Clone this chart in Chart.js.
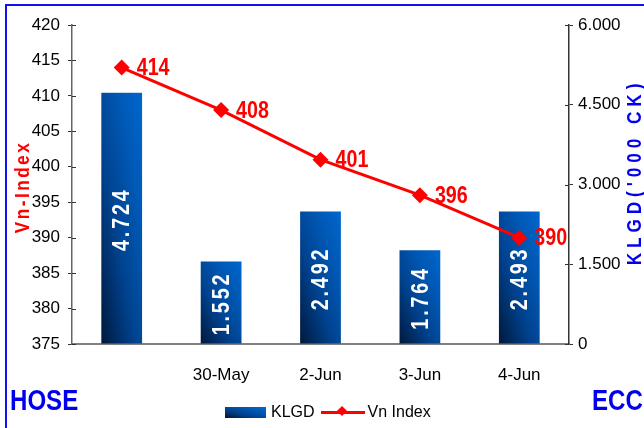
<!DOCTYPE html>
<html>
<head>
<meta charset="utf-8">
<script src="https://cdn.jsdelivr.net/npm/chart.js@4"></script>
<style>
  html, body { margin: 0; padding: 0; background: #fff; }
  #wrap { position: relative; width: 644px; height: 428px; overflow: hidden; font-family: "Liberation Sans", Arial, sans-serif; }
  #frame { position: absolute; left: 5px; top: 4px; width: 700px; height: 500px; border: 2px solid #1010f0; }
  #box { position: absolute; left: 0; top: 0; width: 644px; height: 428px; }
  .corner { position: absolute; top: 384px; font-weight: bold; font-size: 29px; color: #0000ee; transform: scaleX(0.83); transform-origin: left center; }
  #legend { position: absolute; left: 225px; top: 401px; height: 22px; display: flex; align-items: center; font-size: 16px; color: #000; }
  #legend .sw { width: 41px; height: 11px; background: linear-gradient(to top right, #001535, #00428e 40%, #0058b4 70%, #0068d0); margin-right: 5px; }
  #legend .ln { position: relative; width: 44px; height: 3px; background: #ff0000; margin: 0 3px 0 6px; }
  #legend .ln i { position: absolute; left: 17px; top: -4px; width: 8px; height: 8px; background: #ff0000; transform: rotate(45deg) scale(0.9); }
</style>
</head>
<body>
<div id="wrap">
  <div id="frame"></div>
  <div id="box"><canvas id="c"></canvas></div>
  <div class="corner" style="left:10px">HOSE</div>
  <div class="corner" style="left:592px">ECC</div>
  <div id="legend"><span class="sw"></span><span>KLGD</span><span class="ln"><i></i></span><span>Vn Index</span></div>
</div>
<script>
// --- データ ---
const days   = ['', '30-May', '2-Jun', '3-Jun', '4-Jun'];
const klgd   = [4724, 1552, 2492, 1764, 2493];   // '000 CK
const vnIndex = [414, 408, 401, 396, 390];

// 4724 -> "4.724"
function fmt(v) {
    return String(Math.round(v)).replace(/\B(?=(\d{3})+(?!\d))/g, '.');
}

const FONT = '"Liberation Sans", Arial, sans-serif';
const SQUEEZE = 0.82; // Arial Narrow 風に横を詰める
const BAR_PCT = 0.41;

// 回転・横圧縮つきのテキスト描画
function squeezedText(ctx, txt, x, y, opt) {
    ctx.save();
    ctx.translate(x, y);
    if (opt.rotate) ctx.rotate(opt.rotate);
    ctx.scale(SQUEEZE, 1);
    ctx.font = opt.font;
    ctx.letterSpacing = opt.spacing || '0px';
    ctx.fillStyle = opt.color;
    ctx.textAlign = opt.align || 'center';
    ctx.textBaseline = 'middle';
    ctx.fillText(txt, 0, 0);
    ctx.restore();
}

// 棒ごとに正規化した斜めグラデーション（Excel の「斜め上」風）
const GSZ = 64;
const gradTile = document.createElement('canvas');
gradTile.width = gradTile.height = GSZ;
(() => {
    const g2 = gradTile.getContext('2d');
    const g = g2.createLinearGradient(0, GSZ, GSZ, 0);
    g.addColorStop(0, '#001535');
    g.addColorStop(0.4, '#00428e');
    g.addColorStop(0.7, '#0058b4');
    g.addColorStop(1, '#0068d0');
    g2.fillStyle = g;
    g2.fillRect(0, 0, GSZ, GSZ);
})();

function barFill(c) {
    const chart = c.chart;
    if (c.type !== 'data' || !chart.chartArea || !chart.scales.yR) return '#0050a8';
    const xs = chart.scales.x, ys = chart.scales.yR;
    const w = (xs.right - xs.left) / days.length * BAR_PCT;
    const left = xs.getPixelForValue(c.dataIndex) - w / 2;
    const top = ys.getPixelForValue(c.raw);
    const h = Math.max(ys.bottom - top, 1);
    const p = chart.ctx.createPattern(gradTile, 'no-repeat');
    // 端の補間でにじまないよう少し外側まで広げる
    p.setTransform(new DOMMatrix().translate(left - 2, top - 2).scale((w + 4) / GSZ, (h + 4) / GSZ));
    return p;
}

// 値ラベル・軸タイトル・内側の目盛り
const extras = {
    id: 'extras',
    afterDatasetsDraw(chart) {
        const ctx = chart.ctx;
        chart.getDatasetMeta(1).data.forEach((bar, i) => {
            squeezedText(ctx, fmt(klgd[i]), bar.x + 1, (bar.y + bar.base) / 2 + 1, {
                rotate: -Math.PI / 2, font: 'bold 24px ' + FONT, spacing: '3.5px', color: '#ffffff'
            });
        });
        chart.getDatasetMeta(0).data.forEach((pt, i) => {
            squeezedText(ctx, String(vnIndex[i]), pt.x + 15, pt.y + 1, {
                font: 'bold 24px ' + FONT, color: '#ff0000', align: 'left'
            });
        });
    },
    afterDraw(chart) {
        const ctx = chart.ctx;
        const yL = chart.scales.y, yR = chart.scales.yR;
        ctx.save();
        ctx.strokeStyle = '#333';
        ctx.lineWidth = 1;
        yL.ticks.forEach(t => {
            const y = Math.round(yL.getPixelForValue(t.value)) + 0.5;
            ctx.beginPath(); ctx.moveTo(yL.right, y); ctx.lineTo(yL.right + 4, y); ctx.stroke();
        });
        yR.ticks.forEach(t => {
            const y = Math.round(yR.getPixelForValue(t.value)) + 0.5;
            ctx.beginPath(); ctx.moveTo(yR.left, y); ctx.lineTo(yR.left - 4, y); ctx.stroke();
        });
        ctx.restore();
        // 軸タイトル
        squeezedText(ctx, 'Vn-Index', 23, 187, {
            rotate: -Math.PI / 2, font: 'bold 21px ' + FONT, spacing: '3px', color: '#ff0000'
        });
        squeezedText(ctx, "KLGD('000 CK)", 635, 172, {
            rotate: -Math.PI / 2, font: 'bold 21px ' + FONT, spacing: '6px', color: '#0000ee'
        });
    }
};

new Chart(document.getElementById('c'), {
    data: {
        labels: days,
        datasets: [
            {
                type: 'line',
                label: 'Vn Index',
                data: vnIndex,
                yAxisID: 'y',
                borderColor: '#ff0000',
                backgroundColor: '#ff0000',
                borderWidth: 3,
                pointStyle: 'rectRot',
                pointRadius: 8,
                pointBorderWidth: 0,
                tension: 0,
                order: 1
            },
            {
                type: 'bar',
                label: 'KLGD',
                data: klgd,
                yAxisID: 'yR',
                backgroundColor: barFill,
                borderWidth: 0,
                categoryPercentage: 1,
                barPercentage: BAR_PCT,
                order: 2
            }
        ]
    },
    options: {
        responsive: true,
        maintainAspectRatio: false,
        animation: false,
        layout: { padding: { top: 25, left: 0, right: 0, bottom: 0 } },
        plugins: { legend: { display: false }, tooltip: { enabled: false } },
        scales: {
            x: {
                type: 'category',
                grid: { display: false, drawTicks: false },
                border: { display: true, color: '#808080', width: 2 },
                ticks: { color: '#000', padding: 21, font: { family: FONT, size: 17 }, maxRotation: 0 },
                afterFit: s => { s.height = 84; s.paddingLeft = 0; s.paddingRight = 0; }
            },
            y: {
                position: 'left',
                min: 375, max: 420,
                ticks: { stepSize: 5, color: '#000', padding: 8, font: { family: FONT, size: 17 } },
                grid: { drawOnChartArea: false, drawTicks: true, tickLength: 4, color: '#333' },
                border: { display: true, color: '#666', width: 1.5 },
                afterFit: s => { s.width = 72; s.paddingTop = 0; s.paddingBottom = 0; }
            },
            yR: {
                position: 'right',
                min: 0, max: 6000,
                ticks: { stepSize: 1500, color: '#000', padding: 5, font: { family: FONT, size: 17 }, callback: v => fmt(v) },
                grid: { drawOnChartArea: false, drawTicks: true, tickLength: 4, color: '#333' },
                border: { display: true, color: '#333', width: 1.5 },
                afterFit: s => { s.width = 75; s.paddingTop = 0; s.paddingBottom = 0; }
            }
        }
    },
    plugins: [extras]
});
</script>
</body>
</html>
